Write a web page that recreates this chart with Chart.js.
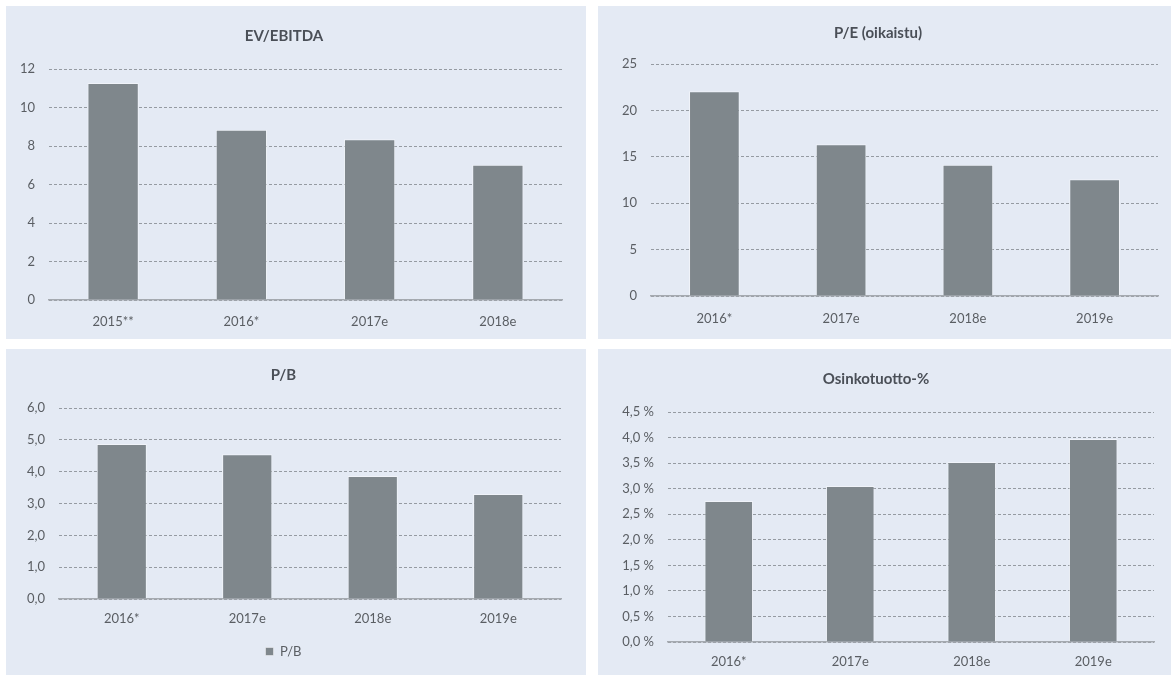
<!DOCTYPE html>
<html lang="fi">
<head>
<meta charset="utf-8">
<title>Arvostuskertoimet</title>
<script src="https://cdn.jsdelivr.net/npm/chart.js@4.4.0/dist/chart.umd.min.js"></script>
<style>
    body { margin: 0; background: #ffffff; width: 1171px; height: 675px; position: relative; overflow: hidden; }
    .paneeli { position: absolute; background: #e4eaf4; }
    .paneeli canvas { display: block; }
</style>
</head>
<body>
<div class="paneeli" style="left:6px; top:6px; width:580px; height:333px;"><canvas id="evEbitda" width="580" height="333"></canvas></div>
<div class="paneeli" style="left:598px; top:6px; width:573px; height:333px;"><canvas id="pe" width="573" height="333"></canvas></div>
<div class="paneeli" style="left:6px; top:349px; width:580px; height:326px;"><canvas id="pb" width="580" height="326"></canvas></div>
<div class="paneeli" style="left:598px; top:349px; width:573px; height:326px;"><canvas id="osinko" width="573" height="326"></canvas></div>

<script>
// Kaavioiden arvot
const evEbitdaVuodet = ['2015**', '2016*', '2017e', '2018e'];
const evEbitdaArvot = [11.27, 8.85, 8.35, 7.03];
const evEbitdaTikit = [0, 2, 4, 6, 8, 10, 12];

const peVuodet = ['2016*', '2017e', '2018e', '2019e'];
const peArvot = [22.06, 16.36, 14.13, 12.59];
const peTikit = [0, 5, 10, 15, 20, 25];

const pbVuodet = ['2016*', '2017e', '2018e', '2019e'];
const pbArvot = [4.87, 4.55, 3.86, 3.30];
const pbTikit = [0, 1, 2, 3, 4, 5, 6];

const osinkoVuodet = ['2016*', '2017e', '2018e', '2019e'];
const osinkoArvot = [2.76, 3.05, 3.52, 3.97]; // prosentteina
const osinkoTikit = [0, 0.5, 1, 1.5, 2, 2.5, 3, 3.5, 4, 4.5];

const fontti = "Lato, 'Open Sans', sans-serif";
const tekstiVari = '#5a5e63';
const palkkiVari = '#7f878c';

function luoKaavio(id, asetukset) {
    const ctx = document.getElementById(id).getContext('2d');
    const tikit = asetukset.tikit;

    return new Chart(ctx, {
        type: 'bar',
        data: {
            labels: asetukset.vuodet,
            datasets: [{
                label: asetukset.otsikko,
                data: asetukset.arvot,
                backgroundColor: palkkiVari,
                borderColor: 'rgba(255,255,255,0.45)',
                borderWidth: 1,
                barPercentage: 0.4,
                categoryPercentage: 1
            }]
        },
        options: {
            responsive: false,
            animation: false,
            layout: { padding: asetukset.reunat },
            plugins: {
                title: {
                    display: true,
                    text: asetukset.otsikko,
                    color: '#4a4f57',
                    font: { family: fontti, size: 15, weight: 'bold', lineHeight: 1.2 },
                    padding: asetukset.otsikkoVali
                },
                legend: {
                    display: !!asetukset.selite,
                    position: 'bottom',
                    labels: {
                        color: tekstiVari,
                        font: { family: fontti, size: 13 },
                        boxWidth: 8,
                        boxHeight: 8,
                        padding: 10
                    }
                },
                tooltip: { enabled: false }
            },
            scales: {
                x: {
                    grid: { display: false, drawTicks: false },
                    border: { display: true, color: '#a5aab0', width: 1.5 },
                    ticks: {
                        color: tekstiVari,
                        font: { family: fontti, size: 13 },
                        padding: asetukset.xVali
                    },
                    afterFit: s => { s.height = asetukset.xKorkeus; }
                },
                y: {
                    min: tikit[0],
                    max: tikit[tikit.length - 1],
                    grid: { color: '#959ba2', lineWidth: 1, drawTicks: false },
                    border: { display: false, dash: [3, 2] },
                    ticks: {
                        color: tekstiVari,
                        font: { family: fontti, size: 13 },
                        padding: 14,
                        callback: asetukset.muoto
                    },
                    afterBuildTicks: s => { s.ticks = tikit.map(v => ({ value: v })); },
                    afterFit: s => { s.width = asetukset.yLeveys; }
                }
            }
        }
    });
}

const pilkku = (v, d) => v.toFixed(d).replace('.', ',');

luoKaavio('evEbitda', {
    otsikko: 'EV/EBITDA',
    vuodet: evEbitdaVuodet,
    arvot: evEbitdaArvot,
    tikit: evEbitdaTikit,
    muoto: v => String(v),
    reunat: { top: 0, left: 0, right: 24, bottom: 0 },
    otsikkoVali: { top: 21, bottom: 24 },
    xKorkeus: 39,
    xVali: 14,
    yLeveys: 43
});

luoKaavio('pe', {
    otsikko: 'P/E (oikaistu)',
    vuodet: peVuodet,
    arvot: peArvot,
    tikit: peTikit,
    muoto: v => String(v),
    reunat: { top: 0, left: 0, right: 13, bottom: 0 },
    otsikkoVali: { top: 18, bottom: 22 },
    xKorkeus: 43,
    xVali: 15,
    yLeveys: 53
});

luoKaavio('pb', {
    otsikko: 'P/B',
    vuodet: pbVuodet,
    arvot: pbArvot,
    tikit: pbTikit,
    muoto: v => pilkku(v, 1),
    selite: true,
    reunat: { top: 0, left: 0, right: 25, bottom: 7 },
    otsikkoVali: { top: 17, bottom: 24 },
    xKorkeus: 36,
    xVali: 12,
    yLeveys: 53
});

luoKaavio('osinko', {
    otsikko: 'Osinkotuotto-%',
    vuodet: osinkoVuodet,
    arvot: osinkoArvot,
    tikit: osinkoTikit,
    muoto: v => pilkku(v, 1) + ' %',
    reunat: { top: 0, left: 0, right: 17, bottom: 0 },
    otsikkoVali: { top: 21, bottom: 24 },
    xKorkeus: 33,
    xVali: 12,
    yLeveys: 70
});
</script>
</body>
</html>
